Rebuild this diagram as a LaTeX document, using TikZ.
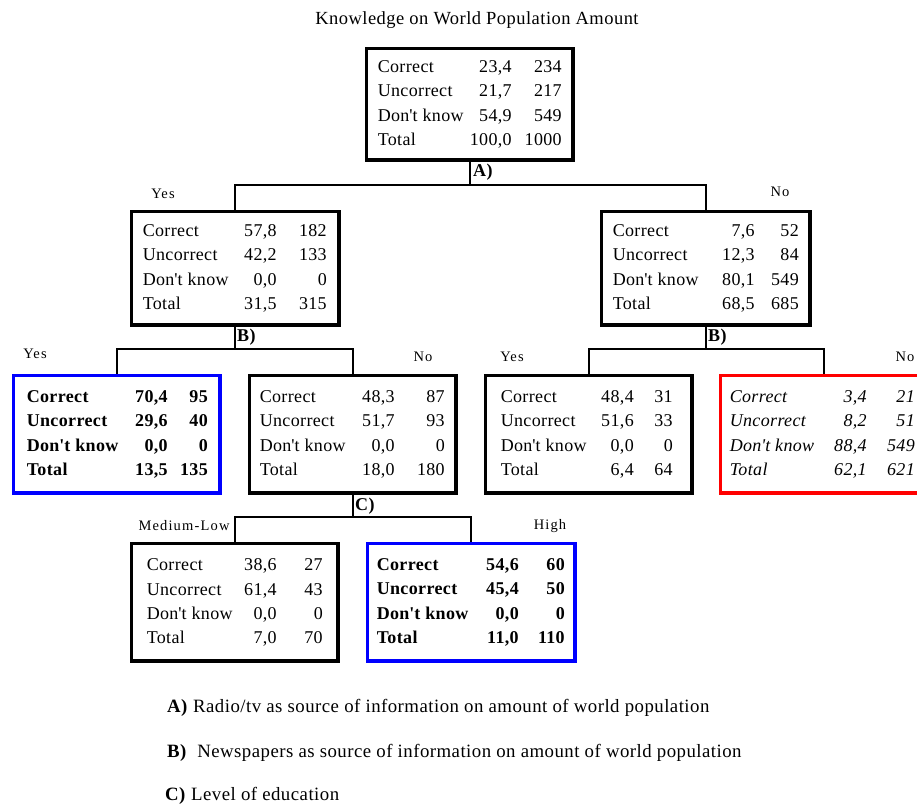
\documentclass[tikz,border=0pt]{standalone}
\usepackage{fontspec}
\setmainfont{Liberation Serif}[LetterSpace=2]
\newfontfamily\lsp{Liberation Serif}[LetterSpace=8]
\newfontfamily\legf{Liberation Serif}[LetterSpace=2.5]
\usepackage{array}
\newcommand\tb[6]{\begin{tabular}{@{\hspace{#1pt}}w{l}{#2pt}@{}w{r}{#3pt}@{}w{r}{#4pt}@{\hspace{#5pt}}}#6\end{tabular}}
\newcommand\dk{Don\textquotesingle t know}
\definecolor{bblue}{RGB}{0,0,255}
\definecolor{rred}{RGB}{255,0,0}
\begin{document}
\begin{tikzpicture}[x=1pt,y=-1pt,
  box/.style={draw, line width=3.5pt, inner xsep=-1.75pt, inner ysep=0pt, anchor=north west, xshift=1.75pt, yshift=-1.75pt, minimum width=206.5pt, minimum height=117.5pt, font=\fontsize{18}{24.2}\selectfont},
  bbox/.style={box, draw=bblue, font=\fontsize{18}{24.4}\selectfont\bfseries},
  rbox/.style={box, draw=rred, font=\fontsize{18}{24.2}\selectfont\itshape},
  conn/.style={line width=1.8pt},
  br/.style={font=\fontsize{14.5}{16}\lsp, inner sep=0pt},
  cut/.style={font=\fontsize{18}{20}\selectfont\bfseries, anchor=west, inner sep=0pt},
  leg/.style={font=\fontsize{18.8}{20}\legf, anchor=west, inner sep=0pt}]
\clip (0,0) rectangle (917,806);
\node[font=\fontsize{18.5}{20}\legf, inner sep=0pt] (title) at (477,20) {Knowledge on World Population Amount};
\node[box, minimum height=111.5pt] (root) at (363,45) {\tb{13}{90}{44}{50}{13}{Correct & 23,4 & 234\\ Uncorrect & 21,7 & 217\\ \dk & 54,9 & 549\\ Total & 100,0 & 1000}};
\node[box, minimum width=207.5pt, minimum height=113.5pt] (L1) at (128,208) {\tb{13}{89}{45}{50}{14}{Correct & 57,8 & 182\\ Uncorrect & 42,2 & 133\\ \dk & 0,0 & 0\\ Total & 31,5 & 315}};
\node[box, minimum width=208.5pt, minimum height=113.5pt] (R1) at (598,208) {\tb{13}{94}{48}{44}{13}{Correct & 7,6 & 52\\ Uncorrect & 12,3 & 84\\ \dk & 80,1 & 549\\ Total & 68,5 & 685}};
\node[bbox] (LL) at (10,372) {\tb{15}{95}{46}{40}{14}{Correct & 70,4 & 95\\ Uncorrect & 29,6 & 40\\ \dk & 0,0 & 0\\ Total & 13,5 & 135}};
\node[box] (LR) at (246,372) {\tb{12}{90}{45}{50}{13}{Correct & 48,3 & 87\\ Uncorrect & 51,7 & 93\\ \dk & 0,0 & 0\\ Total & 18,0 & 180}};
\node[box] (RL) at (482,372) {\tb{17}{88}{45}{39}{21}{Correct & 48,4 & 31\\ Uncorrect & 51,6 & 33\\ \dk & 0,0 & 0\\ Total & 6,4 & 64}};
\node[rbox] (RR) at (717,372) {\tb{11}{91}{46}{48}{14}{Correct & 3,4 & 21\\ Uncorrect & 8,2 & 51\\ \dk & 88,4 & 549\\ Total & 62,1 & 621}};
\node[box] (CL) at (128,540) {\tb{17}{85}{45}{46}{17}{Correct & 38,6 & 27\\ Uncorrect & 61,4 & 43\\ \dk & 0,0 & 0\\ Total & 7,0 & 70}};
\node[bbox, minimum width=207.5pt] (CR) at (364,540) {\tb{11}{95}{47}{46}{12}{Correct & 54,6 & 60\\ Uncorrect & 45,4 & 50\\ \dk & 0,0 & 0\\ Total & 11,0 & 110}};
% connectors
\coordinate (jA) at (root.south |- 0,185);
\coordinate (jB1) at (L1.south |- 0,349);
\coordinate (jB2) at (R1.south |- 0,349);
\coordinate (jC) at (LR.south |- 0,517);
\draw[conn] (root.south) -- (jA);
\draw[conn] (L1.north) |- (jA) -| (R1.north);
\draw[conn] (L1.south) -- (jB1);
\draw[conn] (LL.north) |- (jB1) -| (LR.north);
\draw[conn] (R1.south) -- (jB2);
\draw[conn] (RL.north) |- (jB2) -| (RR.north);
\draw[conn] (LR.south) -- (jC);
\draw[conn] (CL.north) |- (jC) -| (CR.north);
% split labels
\node[cut] (cA) at (473,172) {A)};
\node[cut] (cB1) at (237,337) {B)};
\node[cut] (cB2) at (708,337) {B)};
\node[cut] (cC) at (355,506) {C)};
% branch labels
\node[br] (y1) at (163,194) {Yes};
\node[br] (n1) at (780,192) {No};
\node[br] (y2) at (35,354) {Yes};
\node[br] (n2) at (423,357) {No};
\node[br] (y3) at (512,357) {Yes};
\node[br] (n3) at (905,357) {No};
\node[br] (ml) at (184,526) {Medium-Low};
\node[br] (hi) at (550,526) {High};
% legend
\node[leg] (legA) at (167,708) {\textbf{A)} Radio/tv as source of information on amount of world population};
\node[leg] (legB) at (167,753) {\textbf{B)}\ \ Newspapers as source of information on amount of world population};
\node[leg] (legC) at (165,796) {\textbf{C)} Level of education};
\end{tikzpicture}
\end{document}
